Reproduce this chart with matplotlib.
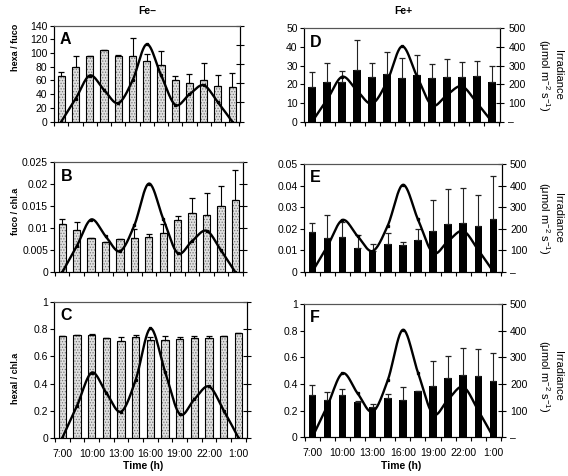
import numpy as np
import matplotlib
matplotlib.use('Agg')
import matplotlib.pyplot as plt
from matplotlib.ticker import FixedLocator, FuncFormatter

plt.rcParams['font.family'] = ['Liberation Sans', 'DejaVu Sans']
plt.rcParams['hatch.linewidth'] = 0.6

# ---------------- data ----------------
times = ['7:00', '8:30', '10:00', '11:30', '13:00', '14:30', '16:00',
         '17:30', '19:00', '20:30', '22:00', '23:30', '1:00']
irradiance = [0, 118, 240, 165, 96, 214, 403, 243, 87, 142, 189, 100, 0]

hexa_fuco_minus = [67, 80, 95, 104.5, 96, 96, 89, 82, 61, 56, 61, 51.5, 50.5]
hexa_fuco_minus_err = [6, 16, 0.5, 0.5, 0.5, 26, 10, 21, 6, 14, 24, 16, 21]
fuco_chla_minus = [0.0110, 0.00955, 0.00773, 0.00682, 0.00758, 0.00788, 0.00803,
                   0.00894, 0.01197, 0.01356, 0.01303, 0.01515, 0.01652]
fuco_chla_minus_err = [0.00107, 0.00181, 0.0001, 0.0001, 0.0001, 0.00197, 0.00061,
                       0.00196, 0.00091, 0.00326, 0.00492, 0.00447, 0.00674]
hexal_chla_minus = [0.748, 0.758, 0.755, 0.736, 0.713, 0.741, 0.718,
                    0.723, 0.731, 0.733, 0.738, 0.750, 0.770]
hexal_chla_minus_err = [0.003, 0.003, 0.013, 0.003, 0.027, 0.017, 0.023,
                        0.027, 0.014, 0.015, 0.015, 0.003, 0.003]

hexa_fuco_plus = [18.3, 21.3, 21.2, 27.8, 23.7, 25.3, 23.3, 25.1, 23.1, 23.7, 23.7, 24.6, 21.2]
hexa_fuco_plus_err = [8.3, 10.3, 6.1, 15.8, 7.8, 11.9, 10.9, 10.5, 7.6, 9.8, 8.1, 7.6, 8.8]
fuco_chla_plus = [0.0182, 0.0156, 0.0159, 0.0110, 0.0097, 0.0130, 0.0124,
                  0.0145, 0.0190, 0.0221, 0.0226, 0.0210, 0.0243]
fuco_chla_plus_err = [0.0045, 0.0105, 0.0071, 0.0059, 0.0031, 0.0048, 0.0014,
                      0.0054, 0.0144, 0.0164, 0.0164, 0.0148, 0.0202]
hexal_chla_plus = [0.32, 0.28, 0.315, 0.263, 0.23, 0.298, 0.28,
                   0.345, 0.388, 0.443, 0.465, 0.46, 0.42]
hexal_chla_plus_err = [0.073, 0.058, 0.045, 0.012, 0.018, 0.027, 0.095,
                       0.005, 0.182, 0.165, 0.205, 0.2, 0.21]

# ---------------- figure ----------------
W, H = 568, 476
fig = plt.figure(figsize=(W / 100, H / 100), dpi=100)


def rect(x0, x1, y0, y1):
    return [x0 / W, 1 - y1 / H, (x1 - x0) / W, (y1 - y0) / H]


def smooth(x, y, n=24):
    P = np.column_stack([np.asarray(x, float), np.asarray(y, float)])
    Pp = np.vstack([P[0], P, P[-1]])
    segs = []
    t = np.linspace(0, 1, n)[:, None]
    for i in range(len(P) - 1):
        p0, p1, p2, p3 = Pp[i], Pp[i + 1], Pp[i + 2], Pp[i + 3]
        c1 = p1 + (p2 - p0) / 6
        c2 = p2 - (p3 - p1) / 6
        B = (1 - t) ** 3 * p1 + 3 * (1 - t) ** 2 * t * c1 + 3 * (1 - t) * t ** 2 * c2 + t ** 3 * p2
        segs.append(B if i == 0 else B[1:])
    B = np.vstack(segs)
    return B[:, 0], B[:, 1]


TICK_FS = 7.5


def fmt_num(v, pos):
    return '%g' % round(v, 6)


def panel(pos, vals, errs, ymax, ystep, letter, filled, xlabels, right_labels):
    ax = fig.add_axes(pos)
    x = np.arange(len(times))
    if filled:
        ax.bar(x, vals, 0.5, color='black', zorder=2)
        ecol = '#222222'
    else:
        ax.bar(x, vals, 0.5, color='#e0e0e0', hatch='......', edgecolor='#777777',
               linewidth=0, zorder=2)
        ax.bar(x, vals, 0.5, facecolor='none', edgecolor='black', linewidth=0.8, zorder=3)
        ecol = 'black'
    ax.errorbar(x, vals, yerr=[np.zeros(len(errs)), errs], fmt='none', ecolor=ecol,
                elinewidth=0.8, capsize=2.2, capthick=0.9, zorder=4)
    ax.set_xlim(-0.55, 12.55)
    ax.set_ylim(0, ymax)
    yt = np.arange(0, ymax + ystep / 2, ystep)
    ax.yaxis.set_major_locator(FixedLocator(yt))
    ax.yaxis.set_major_formatter(FuncFormatter(fmt_num))
    ax.tick_params(axis='y', direction='out', length=3, width=0.8, pad=1.5,
                   labelsize=TICK_FS)
    ax.xaxis.set_major_locator(FixedLocator(np.arange(0, 13, 2)))
    ax.xaxis.set_minor_locator(FixedLocator(np.arange(-0.5, 13, 1)))
    if xlabels:
        ax.set_xticklabels(times[::2])
    else:
        ax.set_xticklabels([])
    ax.tick_params(axis='x', which='major', length=0, pad=8, labelsize=TICK_FS)
    ax.tick_params(axis='x', which='minor', length=3, width=0.8, direction='out')
    for s in ax.spines.values():
        s.set_linewidth(0.8)
    ax.spines['top'].set_color('#555555')

    ax2 = ax.twinx()
    sx, sy = smooth(x, irradiance)
    ax2.plot(sx, sy, color='black', lw=1.7, zorder=5, solid_capstyle='round')
    ax2.plot(x, irradiance, 's', ms=1.4, color='black', zorder=6)
    ax2.set_ylim(0, 500)
    ax2.yaxis.set_major_locator(FixedLocator([0, 100, 200, 300, 400, 500]))
    ax2.tick_params(axis='y', direction='inout', length=6, width=0.8, pad=3,
                    labelsize=TICK_FS)
    if right_labels:
        ax2.yaxis.set_major_formatter(
            FuncFormatter(lambda v, p: '\u2013' if v == 0 else '%d' % v))
    else:
        ax2.set_yticklabels([])
    for s in ax2.spines.values():
        s.set_linewidth(0.8)
    ax2.spines['top'].set_color('#555555')

    ax2.annotate(letter, xy=(0, 1), xycoords='axes fraction', xytext=(4.5, -4.5),
                 textcoords='offset points', ha='left', va='top',
                 fontsize=11.5, fontweight='bold')
    return ax


# left column (Fe-)
panel(rect(53.5, 240, 25.7, 121.5), hexa_fuco_minus, hexa_fuco_minus_err, 140, 20,
      'A', False, False, False)
panel(rect(54.3, 243.3, 162.3, 272.3), fuco_chla_minus, fuco_chla_minus_err, 0.025, 0.005,
      'B', False, False, False)
panel(rect(54.3, 246.5, 302.2, 437.7), hexal_chla_minus, hexal_chla_minus_err, 1.0, 0.2,
      'C', False, True, False)

# right column (Fe+)
panel(rect(304, 500, 28.3, 121.5), hexa_fuco_plus, hexa_fuco_plus_err, 50, 10,
      'D', True, False, True)
panel(rect(304, 501.7, 164, 271.7), fuco_chla_plus, fuco_chla_plus_err, 0.05, 0.01,
      'E', True, False, True)
panel(rect(304, 501.7, 304, 437.3), hexal_chla_plus, hexal_chla_plus_err, 1.0, 0.2,
      'F', True, True, True)


def ftext(x, y, s, **kw):
    fig.text(x / W, 1 - y / H, s, **kw)


ftext(147, 11, 'Fe\u2013', ha='center', va='center', fontsize=7.5, fontweight='bold')
ftext(403, 11, 'Fe+', ha='center', va='center', fontsize=7.5, fontweight='bold')
ftext(143, 466, 'Time (h)', ha='center', va='center', fontsize=7.5, fontweight='bold')
ftext(401, 466, 'Time (h)', ha='center', va='center', fontsize=7.5, fontweight='bold')

ftext(16, 47, 'hexa / fuco', ha='center', va='center', rotation=90, fontsize=6.5,
      fontweight='bold')
ftext(16, 211, 'fuco / chl.a', ha='center', va='center', rotation=90, fontsize=6.5,
      fontweight='bold')
ftext(16, 378, 'hexal / chl.a', ha='center', va='center', rotation=90, fontsize=6.5,
      fontweight='bold')

for yc in (75, 218, 376):
    ftext(558, yc, 'Irradiance', ha='center', va='center', rotation=270, fontsize=8)
    ftext(544, yc, r'($\mathregular{\mu}$mol m$^{\mathregular{-2}}$ s$^{\mathregular{-1}}$)',
          ha='center', va='center', rotation=270, fontsize=8)

fig.savefig('out.png', dpi=100)
